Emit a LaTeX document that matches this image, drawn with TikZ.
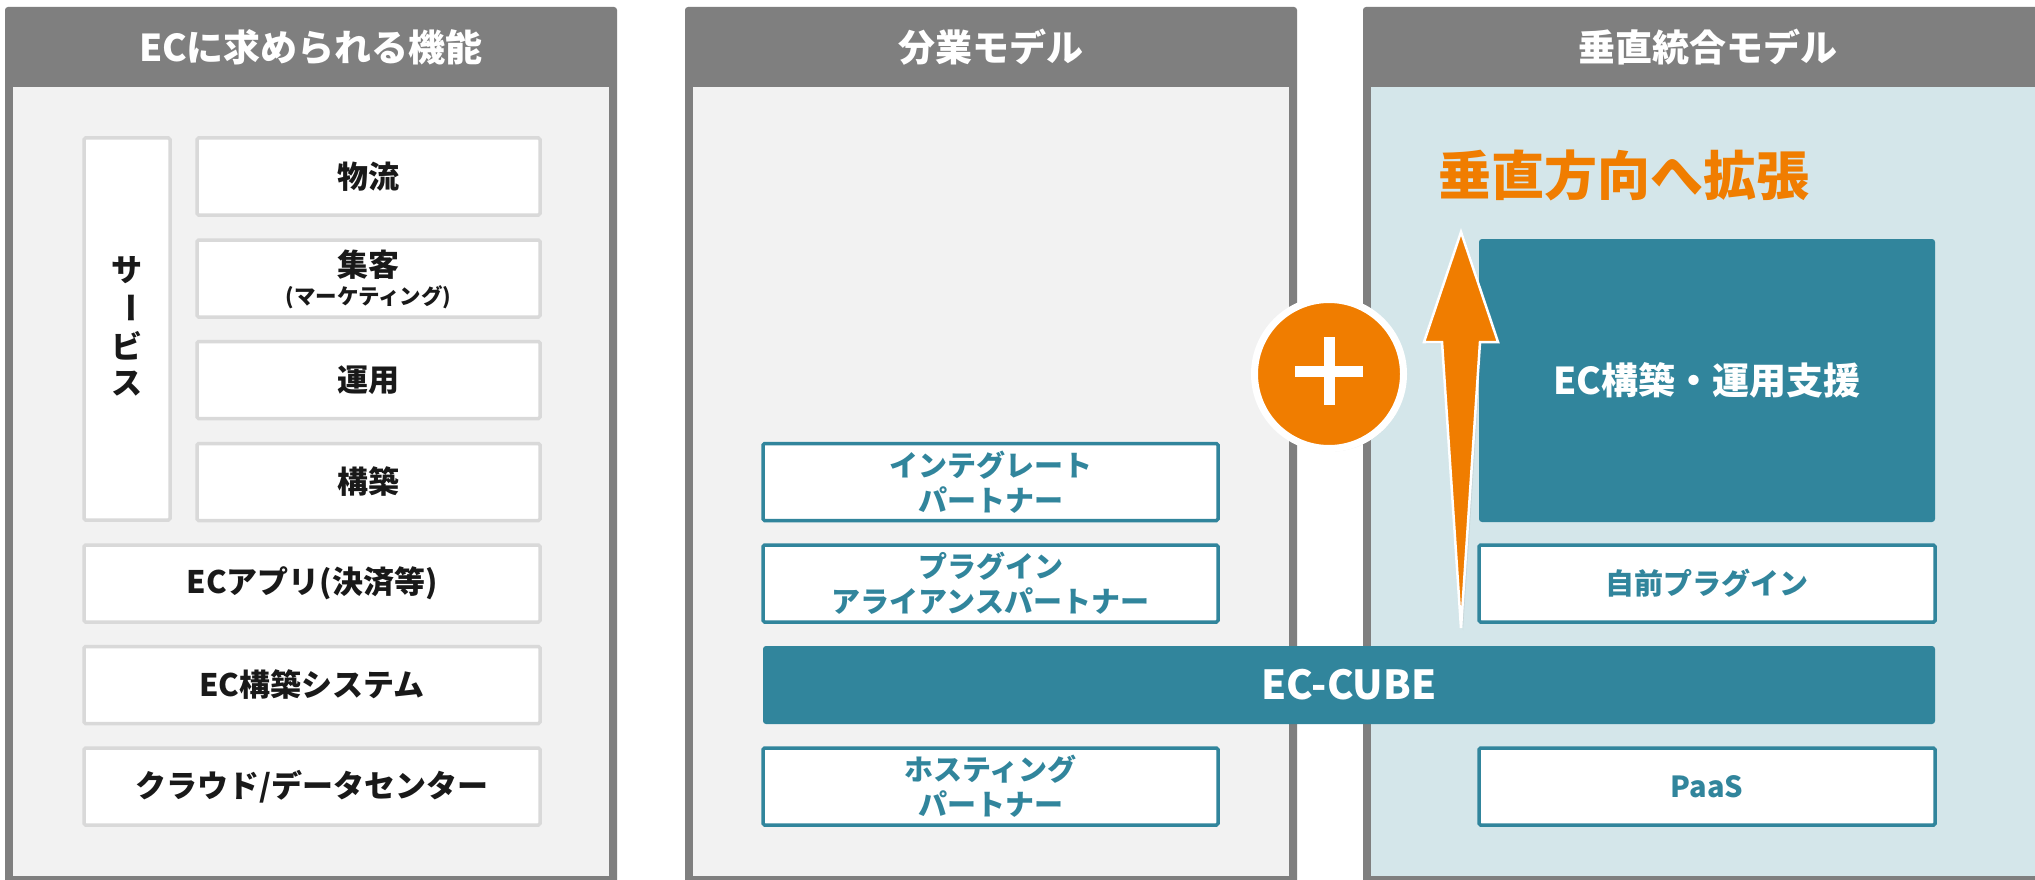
\documentclass[tikz,border=0pt]{standalone}
\usepackage{fontspec}
\setmainfont{Noto Sans CJK JP}
\usetikzlibrary{shadows}
\definecolor{hdrgray}{HTML}{7F7F7F}
\definecolor{panelbg}{HTML}{F2F2F2}
\definecolor{panelbgb}{HTML}{D4E6EA}
\definecolor{ecteal}{HTML}{31859C}
\definecolor{ecorange}{HTML}{F07D00}
\definecolor{boxgray}{HTML}{D9D9D9}
\tikzset{
  hdrtext/.style={text=white, inner sep=0, font=\fontsize{37}{40}\selectfont\bfseries},
  graybox/.style={draw=boxgray, line width=3.5, fill=white, rounded corners=1.5, inner sep=0,
                  font=\fontsize{31}{36}\selectfont\bfseries, text=black!90},
  tealbox/.style={draw=ecteal, line width=3.5, fill=white, rounded corners=1.5, inner sep=0,
                  align=center, font=\fontsize{29}{35}\selectfont\bfseries, text=ecteal},
  tealfill/.style={fill=ecteal, rounded corners=3, inner sep=0, text=white},
  vchar/.style={inner sep=0, font=\fontsize{31}{36}\selectfont\bfseries, text=black!90},
}
\begin{document}
\begin{tikzpicture}[x=1pt,y=-1pt]
\useasboundingbox (0,0) rectangle (2035,880);
\clip (0,0) rectangle (2035,880);
\fill[white] (0,0) rectangle (2035,880);
% panels
\fill[hdrgray, rounded corners=3] (5,7) rectangle (617,895);
\fill[panelbg] (13,87) rectangle (609,876);
\fill[hdrgray, rounded corners=3] (685,7) rectangle (1297,895);
\fill[panelbg] (693,87) rectangle (1289,876);
\fill[hdrgray, rounded corners=3] (1363,7) rectangle (2070,895);
\fill[panelbgb] (1371,87) rectangle (2070,876);
\node[hdrtext] (h1) at (311,47) {ECに求められる機能};
\node[hdrtext] (h2) at (991,47) {分業モデル};
\node[hdrtext] (h3) at (1708,47) {垂直統合モデル};
% panel 1
\node[graybox, minimum width=86, minimum height=382] (svc) at (127,329) {};
\node[vchar] (s1) at (127,270) {サ};
\node[vchar, rotate=-90] (s2) at (127,308) {ー};
\node[vchar] (s3) at (127,346) {ビ};
\node[vchar] (s4) at (127,384) {ス};
\node[graybox, minimum width=343, minimum height=77] (b1) at (368.5,176.5) {物流};
\node[graybox, minimum width=343, minimum height=77] (b2) at (368.5,278.5) {};
\node[vchar] (b2a) at (368.5,265) {集客};
\node[inner sep=0, font=\fontsize{21.5}{24}\selectfont\bfseries, text=black!90] (b2b) at (368.5,297) {(マーケティング)};
\node[graybox, minimum width=343, minimum height=77] (b3) at (368.5,380) {運用};
\node[graybox, minimum width=343, minimum height=77] (b4) at (368.5,482) {構築};
\node[graybox, minimum width=456, minimum height=77] (b5) at (312,583.5) {ECアプリ(決済等)};
\node[graybox, minimum width=456, minimum height=77] (b6) at (312,685) {EC構築システム};
\node[graybox, minimum width=456, minimum height=77] (b7) at (312,786.5) {クラウド/データセンター};
% panel 2
\node[tealbox, minimum width=455, minimum height=77] (p1) at (990.5,482) {インテグレート\\パートナー};
\node[tealbox, minimum width=455, minimum height=77] (p2) at (990.5,583.5) {プラグイン\\アライアンスパートナー};
\node[tealbox, minimum width=455, minimum height=77] (p3) at (990.5,786.5) {ホスティング\\パートナー};
\node[tealfill, minimum width=1172, minimum height=78, font=\fontsize{40}{44}\selectfont\bfseries] (cube) at (1349,685) {EC-CUBE};
% panel 3
\node[tealfill, minimum width=456, minimum height=283, font=\fontsize{37}{40}\selectfont\bfseries] (sup) at (1707,380.5) {EC構築・運用支援};
\node[tealbox, minimum width=456, minimum height=77] (q1) at (1707,583.5) {自前プラグイン};
\node[tealbox, minimum width=456, minimum height=77] (q2) at (1707,786.5) {PaaS};
\node[inner sep=0, text=ecorange, font=\fontsize{53}{56}\selectfont\bfseries] (ttl) at (1624,175) {垂直方向へ拡張};
% arrow
\filldraw[fill=ecorange, draw=white, line width=2.5, line join=miter,
  drop shadow={opacity=0.15, shadow xshift=2pt, shadow yshift=-2pt}]
  (1461,232) -- (1498,342) -- (1480,342) -- (1461,628) -- (1442,342) -- (1424,342) -- cycle;
% plus circle
\node[circle, fill=ecorange, draw=white, line width=7, minimum size=149, inner sep=0,
  drop shadow={opacity=0.18, shadow xshift=2pt, shadow yshift=-3pt}] (plus) at (1329,374) {};
\fill[white] (1295,366) rectangle (1363,377);
\fill[white] (1323.5,337) rectangle (1334.5,405);
\end{tikzpicture}
\end{document}
